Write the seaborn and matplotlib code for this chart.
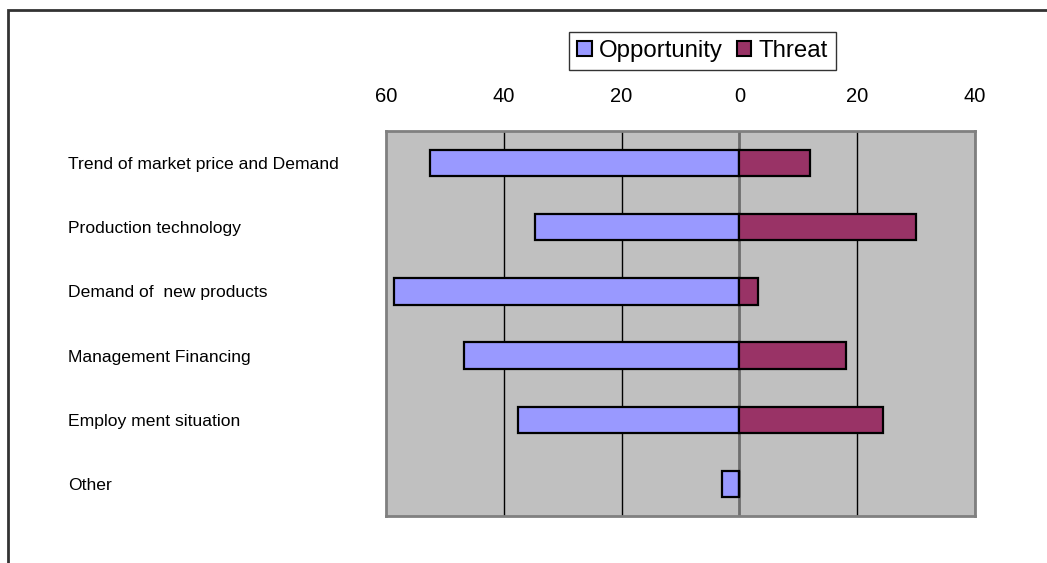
import matplotlib
matplotlib.use("Agg")
import matplotlib.pyplot as plt
from matplotlib import font_manager
from matplotlib.patches import Rectangle
import numpy as np
import pandas as pd
import seaborn as sns

# Survey factors and the share of answers rating each as opportunity / threat
categories = [
    "Trend of market price and Demand",
    "Production technology",
    "Demand of  new products",
    "Management Financing",
    "Employ ment situation",
    "Other",
]
opportunity = [52.5, 34.7, 58.6, 46.7, 37.6, 2.9]
threat = [12.0, 30.0, 3.2, 18.1, 24.3, 0.0]
x_ticks = [-60, -40, -20, 0, 20, 40]
x_tick_labels = ["60", "40", "20", "0", "20", "40"]
series_names = ["Opportunity", "Threat"]

sns.set_theme(style="white")
installed = {f.name for f in font_manager.fontManager.ttflist}
base_font = "Liberation Sans" if "Liberation Sans" in installed else "DejaVu Sans"
plt.rcParams["font.family"] = [base_font, "DejaVu Sans"]
plt.rcParams["text.color"] = "black"

# Opportunity grows to the left, threat to the right of the zero line
df = pd.DataFrame({
    "category": categories * 2,
    "value": [-v for v in opportunity] + threat,
    "kind": [series_names[0]] * len(categories) + [series_names[1]] * len(categories),
})

W, H = 1047, 563
fig = plt.figure(figsize=(W / 100, H / 100), dpi=100)
ax = fig.add_axes([386 / W, 1 - 516 / H, (975 - 386) / W, (516 - 131) / H])
ax.set_facecolor("#C0C0C0")

sns.barplot(
    data=df, x="value", y="category", hue="kind", dodge=False,
    palette={"Opportunity": "#9999FF", "Threat": "#993366"}, saturation=1,
    width=0.41, edgecolor="black", linewidth=1.6, ax=ax, legend=False,
    zorder=3,
)

ax.set_xlim(-60, 40)
ax.set_ylim(len(categories) - 0.5, -0.5)
ax.set_xticks(x_ticks)
ax.set_xticklabels(x_tick_labels)
ax.xaxis.tick_top()
ax.tick_params(axis="x", length=0, pad=18, labelsize=14.5, labelcolor="black")
ax.set_xlabel("")
ax.set_ylabel("")

# Vertical gridlines; the zero line is the gray category axis
for t in x_ticks[1:]:
    if t == 0:
        ax.axvline(t, color="#6E6E6E", lw=2.0, zorder=2)
    else:
        ax.axvline(t, color="black", lw=1.0, zorder=2)

for s in ax.spines.values():
    s.set_visible(True)
    s.set_color("#808080")
    s.set_linewidth(2.0)

ax.tick_params(axis="y", length=0, pad=(386 - 68) * 0.72, labelsize=12.6,
               labelcolor="black")
for lab in ax.get_yticklabels():
    lab.set_horizontalalignment("left")

# Legend
handles = [
    Rectangle((0, 0), 1, 1, facecolor="#9999FF", edgecolor="black", lw=1.5),
    Rectangle((0, 0), 1, 1, facecolor="#993366", edgecolor="black", lw=1.5),
]
leg = fig.legend(
    handles, series_names, loc="center", bbox_to_anchor=(702.5 / W, 1 - 51 / H),
    ncol=2, fontsize=17.3, frameon=True, fancybox=False, edgecolor="black",
    handlelength=0.6, handleheight=0.6, handletextpad=0.3, columnspacing=0.6,
    borderpad=0.35, borderaxespad=0, labelcolor="black",
)
leg.get_frame().set_linewidth(1.0)
leg.get_frame().set_facecolor("white")

# Outer frame of the chart area
fig.add_artist(Rectangle((7.5 / W, -0.2), 1.2, 1.2 - 10 / H,
                         transform=fig.transFigure, fill=False,
                         edgecolor="#333333", lw=2.0))

fig.savefig("out.png", dpi=100)
